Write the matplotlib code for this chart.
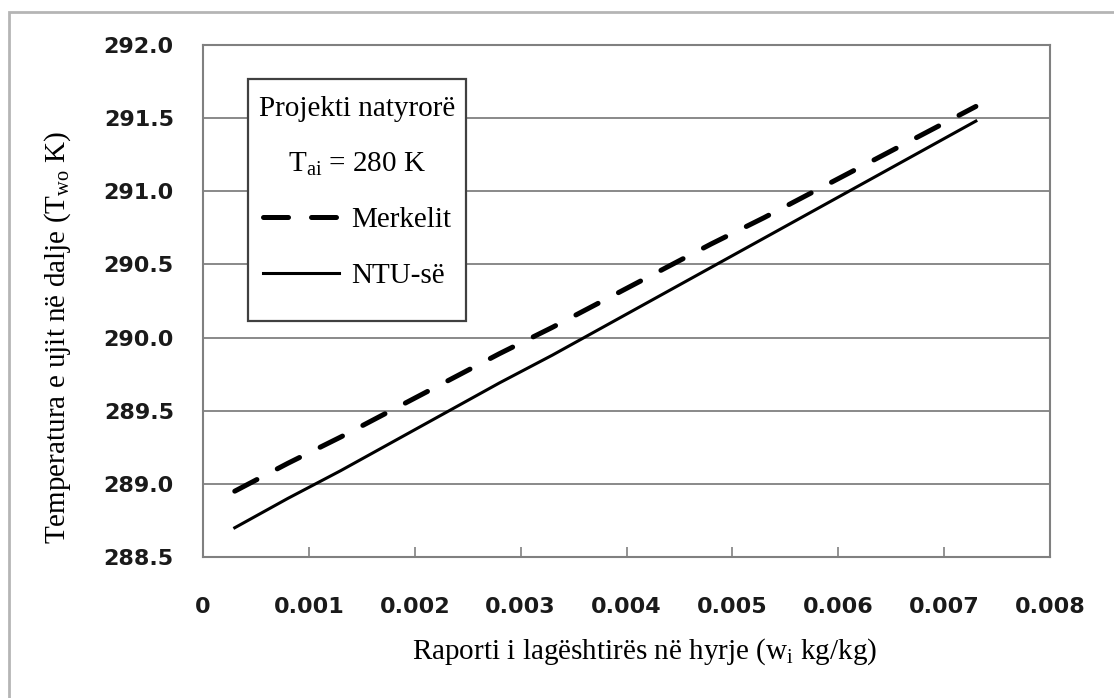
import numpy as np
import matplotlib
matplotlib.use("Agg")
import matplotlib.pyplot as plt
from matplotlib.patches import Rectangle

plt.rcParams["mathtext.fontset"] = "custom"
plt.rcParams["mathtext.rm"] = "Liberation Serif"
plt.rcParams["mathtext.it"] = "Liberation Serif"

# humidity ratio at inlet (kg/kg)
w_in = [0.0003, 0.0008, 0.0013, 0.0018, 0.0023, 0.0028, 0.0033, 0.0038,
        0.0043, 0.0048, 0.0053, 0.0058, 0.0063, 0.0068, 0.0073]
# outlet water temperature (K)
t_merkel = [288.95, 289.14, 289.32, 289.51, 289.70, 289.89, 290.07, 290.26,
            290.45, 290.64, 290.82, 291.01, 291.20, 291.39, 291.58]
t_ntu = [288.70, 288.90, 289.09, 289.29, 289.49, 289.69, 289.88, 290.08,
         290.28, 290.48, 290.68, 290.88, 291.08, 291.28, 291.48]

x_ticks = [0, 0.001, 0.002, 0.003, 0.004, 0.005, 0.006, 0.007, 0.008]
x_ticklabels = ["0", "0.001", "0.002", "0.003", "0.004", "0.005", "0.006", "0.007", "0.008"]
y_ticks = [288.5, 289.0, 289.5, 290.0, 290.5, 291.0, 291.5, 292.0]

W, H = 1114, 698
AX_L, AX_T, AX_R, AX_B = 203, 45, 1050, 557
fig = plt.figure(figsize=(W / 100, H / 100), dpi=100)
ax = fig.add_axes([AX_L / W, 1 - AX_B / H, (AX_R - AX_L) / W, (AX_B - AX_T) / H])


def ax_frac(px, py):
    return (px - AX_L) / (AX_R - AX_L), 1 - (py - AX_T) / (AX_B - AX_T)


# outer chart border (cropped on right and bottom)
fig.patches.append(Rectangle((9 / W, -0.05), 1.2, 1 - 12 / H + 0.05,
                             transform=fig.transFigure, fill=False,
                             edgecolor="#b5b5b5", linewidth=2.0))

ax.plot(w_in, t_merkel, color="black", linewidth=3.6, linestyle=(0, (5.0, 4.6)),
        dash_capstyle="round", label="Merkelit")
ax.plot(w_in, t_ntu, color="black", linewidth=2.2, label="NTU-së")

ax.set_xlim(0, 0.008)
ax.set_ylim(288.5, 292.0)
ax.set_xticks(x_ticks)
ax.set_xticklabels(x_ticklabels)
ax.set_yticks(y_ticks)
ax.set_yticklabels([f"{v:.1f}" for v in y_ticks])
ax.yaxis.grid(True, color="#808080", linewidth=1.3)
ax.set_axisbelow(True)
for s in ax.spines.values():
    s.set_color("#808080")
    s.set_linewidth(1.5)
ax.tick_params(axis="x", direction="in", length=7, color="#808080", width=1.2, pad=29)
ax.tick_params(axis="y", length=0, pad=21)
for lab in ax.get_xticklabels() + ax.get_yticklabels():
    lab.set_fontfamily("DejaVu Sans")
    lab.set_fontweight("bold")
    lab.set_fontsize(16)
    lab.set_color("#1a1a1a")

serif = "Liberation Serif"
fig.text(645 / W, 1 - 652 / H, r"Raporti i lagështirës në hyrje (w$_{\mathregular{i}}$ kg/kg)",
         family=serif, fontsize=21, ha="center", va="center")
fig.text(58 / W, 1 - 337 / H, r"Temperatura e ujit në dalje (T$_{\mathregular{wo}}$ K)",
         family=serif, fontsize=21, ha="center", va="center", rotation=90)

# legend frame
bx0, by0 = ax_frac(248, 321)
bx1, by1 = ax_frac(466, 79)
ax.add_patch(Rectangle((bx0, by0), bx1 - bx0, by1 - by0, transform=ax.transAxes,
                       facecolor="white", edgecolor="#404040", linewidth=1.6,
                       zorder=3))

leg = ax.legend(loc="upper center", bbox_to_anchor=ax_frac(357, 96),
                title="Projekti natyrorë\nT$_{\\mathregular{ai}}$ = 280 K",
                prop={"family": serif, "size": 21},
                frameon=False, borderpad=0, handlelength=2.6, labelspacing=1.0,
                handletextpad=0.4, borderaxespad=0)
leg.set_zorder(4)
title = leg.get_title()
title.set_fontfamily(serif)
title.set_fontsize(21)
title.set_multialignment("center")
title.set_linespacing(2.35)

fig.savefig("out.png", dpi=100)
